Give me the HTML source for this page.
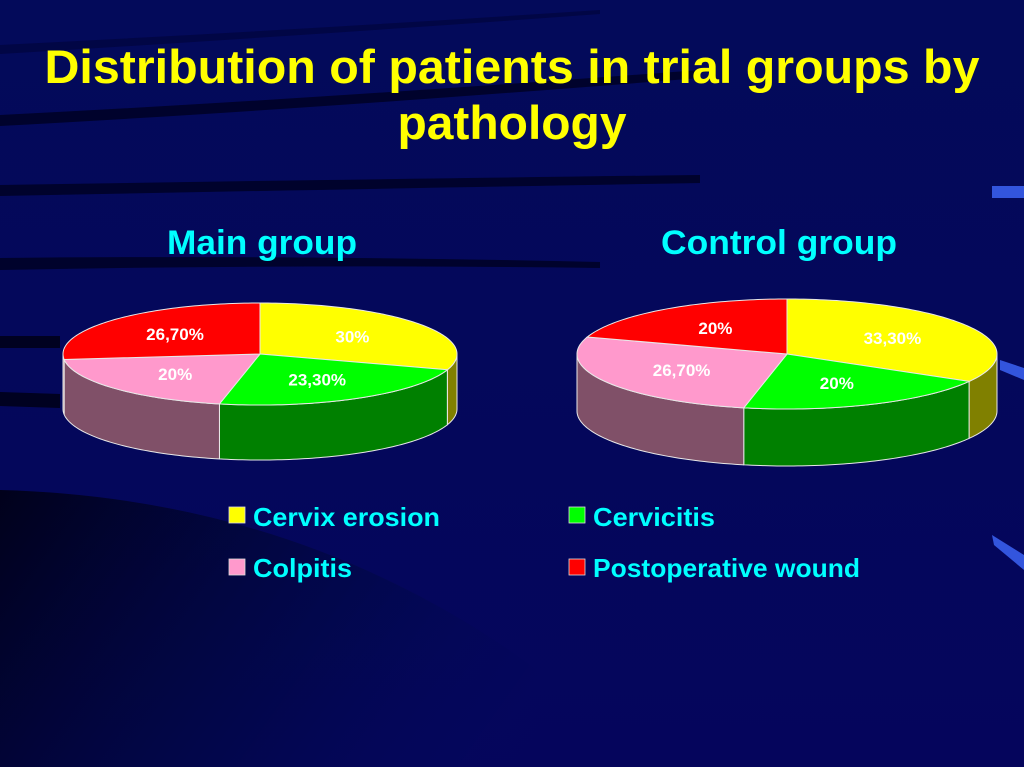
<!DOCTYPE html>
<html><head><meta charset="utf-8"><style>
html,body{margin:0;padding:0;width:1024px;height:767px;overflow:hidden;background:#000a5c}
svg{display:block;font-family:"Liberation Sans",Arial,sans-serif;font-weight:bold}
</style></head><body>
<svg id="slide" width="1024" height="767" viewBox="0 0 1024 767" xmlns="http://www.w3.org/2000/svg">
<defs>
<linearGradient id="bg" x1="0" y1="0" x2="0" y2="1"><stop offset="0" stop-color="#030a5a"/><stop offset="1" stop-color="#05055c"/></linearGradient>
<linearGradient id="swirl" x1="0" y1="0" x2="1" y2="0.3"><stop offset="0" stop-color="#000010"/><stop offset="0.6" stop-color="#000840" stop-opacity="0.6"/><stop offset="1" stop-color="#000a5c" stop-opacity="0"/></linearGradient>
</defs>
<g>
<rect width="1024" height="767" fill="url(#bg)"/>
<path d="M0 490 Q380 500 650 767 L0 767Z" fill="url(#swirl)" opacity="0.85"/>
<path d="M0 45 Q300 30 600 10 L600 14 Q300 36 0 54Z" fill="#000230" opacity="0.5"/>
<path d="M0 115 Q300 100 700 70 L700 78 Q300 110 0 126Z" fill="#000120" opacity="0.8"/>
<path d="M0 185 Q300 180 700 175 L700 183 Q300 190 0 196Z" fill="#000120" opacity="0.8"/>
<path d="M0 258 Q300 255 600 262 L600 268 Q300 264 0 270Z" fill="#000120" opacity="0.8"/>
<path d="M0 336 L60 336 L60 348 L0 348Z" fill="#000120"/>
<path d="M0 392 L60 394 L60 408 L0 406Z" fill="#000120"/>
<rect x="992" y="186" width="32" height="12" fill="#3355dd"/>
<path d="M1000 360 L1024 368 L1024 380 L1000 370Z" fill="#3355dd"/>
<path d="M992 535 L1024 555 L1024 570 L994 545Z" fill="#3355dd"/>
</g>
<text fill="#ffff00" font-size="47" text-anchor="middle" x="512" y="83" textLength="935" lengthAdjust="spacingAndGlyphs">Distribution of patients in trial groups by</text>
<text fill="#ffff00" font-size="47" text-anchor="middle" x="512" y="139" textLength="229" lengthAdjust="spacingAndGlyphs">pathology</text>
<text fill="#00ffff" font-size="34" text-anchor="middle" x="262" y="254" textLength="190" lengthAdjust="spacingAndGlyphs">Main group</text>
<text fill="#00ffff" font-size="34" text-anchor="middle" x="779" y="254" textLength="236" lengthAdjust="spacingAndGlyphs">Control group</text>
<g id="pies"></g>
<g font-size="26" fill="#00ffff">
<g><rect x="229" y="507" width="16" height="16" fill="#ffff00" stroke="#ddd" stroke-width="0.8"/><text x="253" y="526" textLength="187" lengthAdjust="spacingAndGlyphs">Cervix erosion</text></g>
<g><rect x="569" y="507" width="16" height="16" fill="#00ff00" stroke="#ddd" stroke-width="0.8"/><text x="593" y="526" textLength="122" lengthAdjust="spacingAndGlyphs">Cervicitis</text></g>
<g><rect x="229" y="559" width="16" height="16" fill="#ff99cc" stroke="#ddd" stroke-width="0.8"/><text x="253" y="577" textLength="99" lengthAdjust="spacingAndGlyphs">Colpitis</text></g>
<g><rect x="569" y="559" width="16" height="16" fill="#ff0000" stroke="#ddd" stroke-width="0.8"/><text x="593" y="577" textLength="267" lengthAdjust="spacingAndGlyphs">Postoperative wound</text></g>
</g>
</svg>
<script>
const categories = ["Cervix erosion","Cervicitis","Colpitis","Postoperative wound"];
const mainValues = [30, 23.3, 20, 26.7];
const controlValues = [33.3, 20, 26.7, 20];
const mainLabels = ["30%","23,30%","20%","26,70%"];
const controlLabels = ["33,30%","20%","26,70%","20%"];
const topColors = ["#ffff00","#00ff00","#ff99cc","#ff0000"];
const sideColors = ["#808000","#008000","#805068","#800000"];
const NS = "http://www.w3.org/2000/svg";
const root = document.getElementById('pies');
function pt(g, a, dy){ return [g.cx + g.rx*Math.sin(a), g.cy - g.ry*Math.cos(a) + (dy||0)]; }
function arc(g, a1, a2, dy){
  let d = ""; const n = Math.max(2, Math.ceil(Math.abs(a2-a1)/0.02));
  for(let i=0;i<=n;i++){ const p = pt(g, a1+(a2-a1)*i/n, dy); d += (i?" L":"")+p[0].toFixed(2)+" "+p[1].toFixed(2); }
  return d;
}
function drawPie(name, values, labels, g){
  const grp = document.createElementNS(NS,'g');
  
  
  root.appendChild(grp);
  const total = values.reduce((s,v)=>s+v,0);
  let acc = 0; const angles = [];
  values.forEach(v=>{ const a1 = acc/total*2*Math.PI; acc+=v; angles.push([a1, acc/total*2*Math.PI]); });
  angles.forEach((a,i)=>{
    const s = Math.max(a[0], Math.PI/2), e = Math.min(a[1], 3*Math.PI/2);
    if (e <= s) return;
    const p = document.createElementNS(NS,'path');
    p.setAttribute('d', "M"+arc(g, s, e, 0)+" L"+arc(g, e, s, g.depth)+" Z");
    p.setAttribute('fill', sideColors[i]);
    p.setAttribute('stroke', '#e8e8e8');
    p.setAttribute('stroke-width', '1');
    
    
    grp.appendChild(p);
  });
  angles.forEach((a,i)=>{
    const p = document.createElementNS(NS,'path');
    p.setAttribute('d', "M"+g.cx+" "+g.cy+" L"+arc(g, a[0], a[1], 0)+" Z");
    p.setAttribute('fill', topColors[i]);
    p.setAttribute('stroke', '#e8e8e8');
    p.setAttribute('stroke-width', '1');
    
    
    grp.appendChild(p);
  });
  angles.forEach((a,i)=>{
    const m = (a[0]+a[1])/2;
    const x = g.cx + 0.58*g.rx*Math.sin(m), y = g.cy - 0.58*g.ry*Math.cos(m) + 6;
    const t = document.createElementNS(NS,'text');
    t.setAttribute('x', x.toFixed(1)); t.setAttribute('y', y.toFixed(1));
    t.setAttribute('text-anchor','middle'); t.setAttribute('fill','#ffffff'); t.setAttribute('font-size','17');
    
    
    t.textContent = labels[i];
    grp.appendChild(t);
  });
}
drawPie('main-group-pie', mainValues, mainLabels, {cx:260, cy:354, rx:197, ry:51, depth:55});
drawPie('control-group-pie', controlValues, controlLabels, {cx:787, cy:354, rx:210, ry:55, depth:57});
</script>
</body></html>
